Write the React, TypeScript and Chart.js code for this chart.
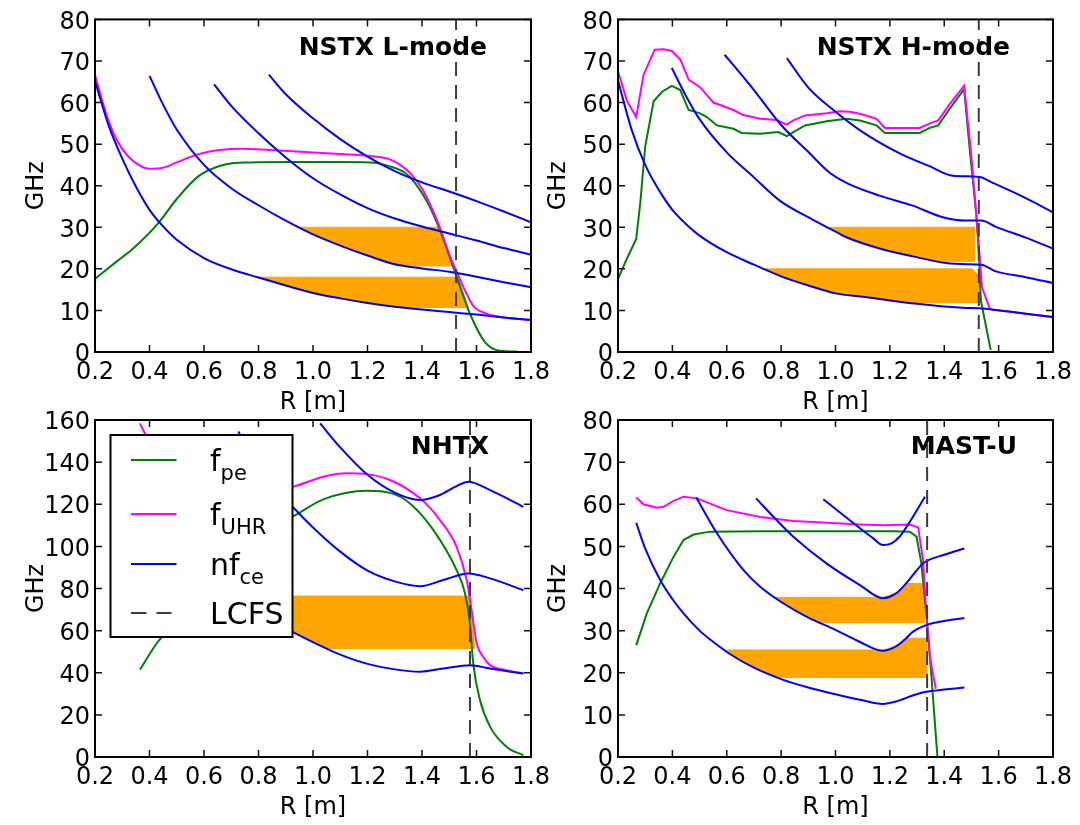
import React, { useEffect, useRef } from 'react';
import { Chart, registerables } from 'chart.js';

Chart.register(...registerables);

// ---------------- data (R in m, frequency in GHz) ----------------
const X_TICK_MIN = 0.2;
const X_TICK_MAX = 1.8;
const X_TICK_STEP = 0.2;

// Panel 1: NSTX L-mode
const L_TITLE = 'NSTX L-mode';
const L_YMAX = 80;
const L_LCFS = 1.525;
const L_B1_R = [0.2, 0.25, 0.3, 0.35, 0.4, 0.45, 0.5, 0.6, 0.7, 0.8, 0.9, 1.0, 1.1, 1.2, 1.3, 1.4, 1.5, 1.6, 1.7, 1.8];
const L_B1 = [65.2, 54.5, 46.5, 39.8, 34.2, 30.2, 27.0, 22.6, 19.9, 17.9, 16.0, 14.2, 12.9, 11.8, 10.9, 10.2, 9.6, 9.0, 8.3, 7.7];
const L_B2_R = [0.4, 0.45, 0.5, 0.6, 0.7, 0.8, 0.9, 1.0, 1.1, 1.2, 1.3, 1.4, 1.5, 1.6, 1.7, 1.8];
const L_B2 = [66.4, 59.5, 53.5, 45.0, 39.4, 35.3, 31.6, 28.3, 25.6, 23.2, 21.1, 20.1, 19.3, 18.1, 16.8, 15.6];
const L_B3_R = [0.637, 0.7, 0.8, 0.9, 1.0, 1.1, 1.2, 1.3, 1.4, 1.5, 1.6, 1.7, 1.8];
const L_B3 = [64.4, 59.2, 52.6, 46.8, 41.8, 37.9, 34.6, 32.1, 30.2, 28.5, 26.8, 25.0, 23.4];
const L_B4_R = [0.838, 0.9, 1.0, 1.1, 1.2, 1.3, 1.4, 1.5, 1.6, 1.7, 1.8];
const L_B4 = [66.7, 62.0, 56.2, 51.2, 47.0, 43.5, 40.8, 38.6, 36.3, 33.8, 31.2];
const L_UHR_R = [0.2, 0.24, 0.28, 0.32, 0.36, 0.4, 0.44, 0.5, 0.58, 0.66, 0.74, 0.84, 1.0, 1.1, 1.2, 1.28, 1.32, 1.36, 1.4, 1.43, 1.466, 1.5, 1.525, 1.56, 1.588, 1.637, 1.7, 1.8];
const L_UHR = [66.7, 57.5, 51.0, 47.2, 45.0, 44.1, 44.2, 45.6, 47.6, 48.6, 48.9, 48.6, 48.0, 47.6, 47.2, 46.4, 45.0, 42.8, 39.3, 35.5, 29.9, 23.5, 19.6, 14.5, 11.1, 9.2, 8.3, 7.7];
const L_PE_R = [0.2, 0.28, 0.34, 0.43, 0.5, 0.58, 0.67, 0.77, 0.92, 1.1, 1.21, 1.28, 1.34, 1.374, 1.42, 1.466, 1.52, 1.576, 1.631, 1.686, 1.75];
const L_PE = [17.6, 21.8, 24.9, 30.8, 36.8, 42.3, 45.0, 45.6, 45.7, 45.7, 45.6, 44.7, 43.0, 40.7, 36.0, 29.3, 19.4, 9.2, 2.4, 0.3, 0.1];
const L_BAND1_R = [0.95, 1.466, 1.509, 1.31, 1.2, 1.1, 1.0, 0.95];
const L_BAND1 = [30.0, 30.0, 20.7, 20.7, 23.2, 25.6, 28.3, 30.0];
const L_BAND2_R = [0.8, 1.533, 1.57, 1.32, 1.2, 1.1, 1.0, 0.9, 0.8];
const L_BAND2 = [18.0, 18.0, 10.7, 10.7, 11.8, 12.9, 14.2, 16.0, 18.0];

// Panel 2: NSTX H-mode
const H_TITLE = 'NSTX H-mode';
const H_YMAX = 80;
const H_LCFS = 1.527;
const H_B1_R = [0.2, 0.25, 0.3, 0.35, 0.4, 0.45, 0.5, 0.6, 0.7, 0.8, 0.9, 1.0, 1.1, 1.2, 1.3, 1.4, 1.48, 1.53, 1.59, 1.7, 1.8];
const H_B1 = [65.3, 53.5, 45.0, 39.0, 34.2, 30.8, 28.0, 24.0, 21.0, 18.2, 16.0, 14.1, 13.3, 12.4, 11.6, 10.95, 10.6, 10.5, 10.1, 9.2, 8.4];
const H_B2_R = [0.398, 0.45, 0.5, 0.6, 0.7, 0.795, 0.917, 0.979, 1.04, 1.162, 1.284, 1.407, 1.48, 1.536, 1.59, 1.7, 1.8];
const H_B2 = [68.3, 61.6, 56.0, 48.0, 42.0, 36.4, 31.8, 29.7, 27.6, 24.9, 23.0, 21.4, 21.1, 21.0, 19.4, 18.0, 16.6];
const H_B3_R = [0.592, 0.65, 0.7, 0.8, 0.905, 0.979, 1.04, 1.162, 1.284, 1.395, 1.48, 1.536, 1.59, 1.7, 1.8];
const H_B3 = [71.5, 67.0, 63.0, 54.6, 47.8, 43.1, 40.7, 37.6, 35.2, 32.4, 31.6, 31.6, 30.1, 27.5, 24.9];
const H_B4_R = [0.821, 0.9, 1.0, 1.1, 1.236, 1.346, 1.432, 1.529, 1.578, 1.7, 1.8];
const H_B4 = [70.7, 63.6, 57.8, 52.9, 47.8, 44.7, 42.4, 42.1, 40.7, 37.0, 33.6];
const H_UHR_R = [0.2, 0.233, 0.267, 0.294, 0.335, 0.368, 0.398, 0.429, 0.46, 0.502, 0.551, 0.625, 0.661, 0.723, 0.784, 0.821, 0.845, 0.888, 0.968, 1.017, 1.053, 1.09, 1.151, 1.182, 1.249, 1.31, 1.347, 1.378, 1.42, 1.473, 1.499, 1.517, 1.529, 1.539, 1.568, 1.7, 1.8];
const H_UHR = [67.5, 60.4, 56.5, 66.7, 72.7, 72.8, 72.4, 70.4, 65.5, 63.7, 60.0, 58.2, 57.0, 56.1, 55.8, 54.7, 55.7, 56.9, 57.4, 57.9, 57.8, 57.3, 56.1, 53.9, 53.9, 53.9, 55.0, 55.7, 59.6, 64.0, 47.8, 33.6, 24.1, 15.5, 10.3, 9.2, 8.4];
const H_PE_R = [0.2, 0.233, 0.267, 0.282, 0.3, 0.331, 0.362, 0.398, 0.429, 0.46, 0.502, 0.527, 0.564, 0.625, 0.655, 0.723, 0.79, 0.821, 0.845, 0.888, 0.968, 1.041, 1.09, 1.151, 1.182, 1.31, 1.347, 1.378, 1.42, 1.473, 1.495, 1.518, 1.527, 1.535, 1.571];
const H_PE = [17.6, 22.5, 27.2, 35.9, 49.4, 60.3, 62.6, 64.0, 63.0, 58.2, 57.4, 56.5, 54.5, 53.7, 52.7, 52.5, 52.9, 51.9, 52.9, 54.5, 55.5, 56.1, 55.7, 54.5, 52.7, 52.7, 53.9, 54.5, 58.5, 63.2, 47.8, 33.0, 24.0, 12.2, 0.5];
const H_BAND1_R = [0.979, 1.511, 1.511, 1.37, 1.284, 1.162, 1.04, 0.979];
const H_BAND1 = [30.0, 30.0, 21.8, 21.8, 23.0, 24.9, 27.6, 30.0];
const H_BAND2_R = [0.74, 1.503, 1.529, 1.529, 1.26, 1.2, 1.1, 1.0, 0.9, 0.8, 0.74];
const H_BAND2 = [20.0, 20.0, 18.2, 11.9, 11.9, 12.4, 13.3, 14.1, 16.0, 18.2, 20.0];

// Panel 3: NHTX
const X_TITLE = 'NHTX';
const X_YMAX = 160;
const X_LCFS = 1.576;
const X_B1_R = [0.37, 0.4, 0.5, 0.6, 0.7, 0.8, 0.925, 1.0, 1.1, 1.2, 1.3, 1.393, 1.478, 1.576, 1.65, 1.772];
const X_B1 = [150, 138, 110, 92, 78, 68, 59.4, 54.5, 48.6, 44.2, 41.6, 40.5, 42.0, 43.6, 42.0, 39.6];
const X_B2_R = [0.726, 0.8, 0.925, 1.0, 1.1, 1.2, 1.3, 1.393, 1.478, 1.57, 1.65, 1.772];
const X_B2 = [154.5, 137, 118.8, 109.0, 97.5, 88.5, 83.4, 81.1, 84.0, 87.1, 84.8, 79.2];
const X_B3_R = [1.026, 1.1, 1.2, 1.3, 1.393, 1.466, 1.527, 1.57, 1.65, 1.772];
const X_B3 = [158.4, 147.0, 134.0, 125.5, 122.0, 124.4, 128.6, 130.7, 126.7, 118.8];
const X_UHR_R = [0.365, 0.39, 0.45, 0.55, 0.7, 0.85, 0.925, 1.038, 1.124, 1.197, 1.283, 1.393, 1.466, 1.527, 1.564, 1.582, 1.601, 1.625, 1.65, 1.711, 1.772];
const X_UHR = [158.4, 152, 141, 133, 128, 127.5, 128.3, 133.1, 134.7, 134.3, 131.5, 122.8, 112.5, 99.8, 84, 69.7, 53.9, 47.5, 43.6, 41.2, 39.6];
const X_PE_R = [0.365, 0.426, 0.445, 0.5, 0.6, 0.7, 0.8, 0.925, 1.038, 1.197, 1.283, 1.356, 1.442, 1.527, 1.558, 1.576, 1.588, 1.613, 1.65, 1.711, 1.772];
const X_PE = [41.5, 53.9, 57, 70, 88, 100, 107, 114.1, 122.3, 126.4, 125.4, 120.4, 107.7, 88.7, 77.6, 63.4, 44.4, 26.9, 14.3, 4.8, 0.8];
const X_BAND_R = [0.71, 1.576, 1.594, 1.06, 1.0, 0.925, 0.8, 0.71];
const X_BAND = [76.4, 76.4, 51.5, 51.5, 54.5, 59.4, 68.0, 76.4];

// Panel 4: MAST-U
const M_TITLE = 'MAST-U';
const M_YMAX = 80;
const M_LCFS = 1.337;
const M_B1_R = [0.267, 0.3, 0.355, 0.4, 0.441, 0.5, 0.539, 0.613, 0.7, 0.8, 0.9, 1.0, 1.09, 1.174, 1.224, 1.284, 1.333, 1.4, 1.474];
const M_B1 = [55.6, 49.5, 42.0, 37.5, 34.1, 30.0, 27.9, 24.4, 21.2, 18.5, 16.5, 14.9, 13.6, 12.6, 13.2, 14.6, 15.5, 16.0, 16.5];
const M_B2_R = [0.488, 0.564, 0.661, 0.723, 0.8, 0.9, 1.0, 1.09, 1.174, 1.224, 1.26, 1.284, 1.333, 1.4, 1.474];
const M_B2 = [61.6, 53.1, 44.4, 40.4, 36.8, 33.1, 30.2, 27.3, 25.2, 26.3, 28.2, 29.7, 31.3, 32.3, 33.0];
const M_B3_R = [0.708, 0.784, 0.845, 0.968, 1.09, 1.174, 1.224, 1.26, 1.323, 1.4, 1.474];
const M_B3 = [61.4, 56.2, 52.3, 45.9, 40.8, 37.7, 38.9, 41.2, 46.0, 48.0, 49.5];
const M_B4_R = [0.955, 1.029, 1.09, 1.139, 1.174, 1.206, 1.237, 1.273, 1.329];
const M_B4 = [61.2, 57.4, 54.3, 51.9, 50.3, 50.7, 52.4, 55.8, 61.8];
const M_UHR_R = [0.267, 0.294, 0.343, 0.368, 0.404, 0.441, 0.49, 0.6, 0.723, 0.845, 0.968, 1.09, 1.176, 1.273, 1.304, 1.322, 1.335, 1.349, 1.369];
const M_UHR = [61.6, 60.0, 59.2, 59.4, 60.8, 61.8, 61.4, 58.6, 57.0, 56.0, 55.6, 55.2, 55.0, 55.2, 54.5, 46.7, 33.3, 23.0, 16.2];
const M_PE_R = [0.267, 0.306, 0.355, 0.404, 0.441, 0.478, 0.539, 0.723, 1.212, 1.273, 1.298, 1.316, 1.335, 1.353, 1.375];
const M_PE = [26.5, 34.1, 41.2, 47.5, 51.5, 52.8, 53.5, 53.6, 53.6, 53.5, 52.3, 45.9, 33.3, 19.0, 0];
const M_BAND1_R = [0.778, 1.174, 1.224, 1.26, 1.326, 1.326, 0.94, 0.9, 0.8, 0.778];
const M_BAND1 = [37.9, 37.9, 38.9, 41.2, 41.2, 31.9, 31.9, 33.1, 36.8, 37.9];
const M_BAND2_R = [0.6, 1.174, 1.224, 1.26, 1.334, 1.338, 0.79, 0.7, 0.613, 0.6];
const M_BAND2 = [25.4, 25.4, 26.3, 28.2, 28.2, 18.9, 18.9, 21.2, 24.4, 25.4];

// Legend
const LEGEND_MAIN = ['f', 'f', 'nf', 'LCFS'];
const LEGEND_SUB = ['pe', 'UHR', 'ce', ''];

// ---------------- styles ----------------
const W = 1080;
const H = 825;
const FAMILY = "'DejaVu Sans', 'Liberation Sans', sans-serif";
const BLUE = '#0000ff';
const MAGENTA = '#ff00ff';
const GREEN = '#008000';
const ORANGE = '#ffa500';
const DASH_COLOR = '#3c3c3c';
const LEGEND_COLORS = [GREEN, MAGENTA, BLUE, DASH_COLOR];
const TICK_LEN = 7;
const X_AXIS_H = 65;

type Curve = [number[], number[]];
interface PanelCfg {
  title: string;
  yMax: number;
  yStep: number;
  lcfs: number;
  blues: Curve[];
  uhr: Curve;
  pe: Curve;
  bands: Curve[];
  jagged: boolean;
  area: { left: number; top: number; right: number; bottom: number };
  padLeft: number;
  ghzPad: number;
  titleRight: number;
  titleY: number;
  legend: boolean;
}

const PANELS: PanelCfg[] = [
  {
    title: L_TITLE, yMax: L_YMAX, yStep: 10, lcfs: L_LCFS,
    blues: [[L_B1_R, L_B1], [L_B2_R, L_B2], [L_B3_R, L_B3], [L_B4_R, L_B4]],
    uhr: [L_UHR_R, L_UHR], pe: [L_PE_R, L_PE],
    bands: [[L_BAND1_R, L_BAND1], [L_BAND2_R, L_BAND2]],
    jagged: false,
    area: { left: 95, top: 14, right: 531, bottom: 352 }, padLeft: 0, ghzPad: 22.3,
    titleRight: 44, titleY: 29.5, legend: false,
  },
  {
    title: H_TITLE, yMax: H_YMAX, yStep: 10, lcfs: H_LCFS,
    blues: [[H_B1_R, H_B1], [H_B2_R, H_B2], [H_B3_R, H_B3], [H_B4_R, H_B4]],
    uhr: [H_UHR_R, H_UHR], pe: [H_PE_R, H_PE],
    bands: [[H_BAND1_R, H_BAND1], [H_BAND2_R, H_BAND2]],
    jagged: true,
    area: { left: 618, top: 14, right: 1053, bottom: 352 }, padLeft: 540, ghzPad: 4.6,
    titleRight: 43, titleY: 29.5, legend: false,
  },
  {
    title: X_TITLE, yMax: X_YMAX, yStep: 20, lcfs: X_LCFS,
    blues: [[X_B1_R, X_B1], [X_B2_R, X_B2], [X_B3_R, X_B3]],
    uhr: [X_UHR_R, X_UHR], pe: [X_PE_R, X_PE],
    bands: [[X_BAND_R, X_BAND]],
    jagged: false,
    area: { left: 95, top: 420, right: 531, bottom: 757 }, padLeft: 0, ghzPad: 22.3,
    titleRight: 42, titleY: 27.5, legend: true,
  },
  {
    title: M_TITLE, yMax: M_YMAX, yStep: 10, lcfs: M_LCFS,
    blues: [[M_B1_R, M_B1], [M_B2_R, M_B2], [M_B3_R, M_B3], [M_B4_R, M_B4]],
    uhr: [M_UHR_R, M_UHR], pe: [M_PE_R, M_PE],
    bands: [[M_BAND1_R, M_BAND1], [M_BAND2_R, M_BAND2]],
    jagged: true,
    area: { left: 618, top: 420, right: 1053, bottom: 757 }, padLeft: 540, ghzPad: 4.6,
    titleRight: 36, titleY: 27.5, legend: false,
  },
];

const pts = (xs: number[], ys: number[]) => xs.map((x, i) => ({ x, y: ys[i] }));

function drawLegend(ctx: CanvasRenderingContext2D, a: any) {
  const bx = a.left + 15.5;
  const by = a.top + 15;
  const bw = 182;
  const bh = 202;
  ctx.save();
  ctx.fillStyle = '#ffffff';
  ctx.fillRect(bx, by, bw, bh);
  ctx.lineWidth = 2;
  ctx.strokeStyle = '#000';
  ctx.strokeRect(bx, by, bw, bh);
  const rowY = [25, 79, 129, 178];
  LEGEND_MAIN.forEach((m, i) => {
    const y = by + rowY[i];
    ctx.beginPath();
    ctx.strokeStyle = LEGEND_COLORS[i];
    ctx.lineWidth = 2;
    ctx.setLineDash(i === 3 ? [15.5, 10] : []);
    ctx.moveTo(bx + 20.5, y);
    ctx.lineTo(bx + (i === 3 ? 61 : 66), y);
    ctx.stroke();
    ctx.setLineDash([]);
    ctx.fillStyle = '#000';
    ctx.textAlign = 'left';
    ctx.textBaseline = 'alphabetic';
    ctx.font = `30px ${FAMILY}`;
    ctx.fillText(m, bx + 99.5, y + 11);
    if (LEGEND_SUB[i]) {
      const w = ctx.measureText(m).width;
      ctx.font = `21px ${FAMILY}`;
      ctx.fillText(LEGEND_SUB[i], bx + 99.5 + w, y + 20);
    }
  });
  ctx.restore();
}

function makeDecor(p: PanelCfg) {
  return {
    id: 'decor',
    afterDatasetsDraw(chart: any) {
      const { ctx, chartArea: a, scales } = chart;
      const xs = scales.x;
      const ys = scales.y;
      ctx.save();
      ctx.strokeStyle = '#111';
      ctx.lineWidth = 1.5;
      ctx.beginPath();
      xs.ticks.forEach((t: any) => {
        const px = xs.getPixelForValue(t.value);
        ctx.moveTo(px, a.bottom);
        ctx.lineTo(px, a.bottom - TICK_LEN);
        ctx.moveTo(px, a.top);
        ctx.lineTo(px, a.top + TICK_LEN);
      });
      ys.ticks.forEach((t: any) => {
        const py = ys.getPixelForValue(t.value);
        ctx.moveTo(a.left, py);
        ctx.lineTo(a.left + TICK_LEN, py);
        ctx.moveTo(a.right, py);
        ctx.lineTo(a.right - TICK_LEN, py);
      });
      ctx.stroke();
      ctx.lineWidth = 2;
      ctx.strokeStyle = '#000';
      ctx.strokeRect(a.left, a.top, a.right - a.left, a.bottom - a.top);
      ctx.fillStyle = '#000';
      ctx.font = `bold 25px ${FAMILY}`;
      ctx.textAlign = 'right';
      ctx.textBaseline = 'middle';
      ctx.fillText(p.title, a.right - p.titleRight, a.top + p.titleY);
      ctx.restore();
      if (p.legend) drawLegend(ctx, a);
    },
  };
}

function buildChart(canvas: HTMLCanvasElement, p: PanelCfg) {
  const lineMode = (jag: boolean) =>
    jag ? { tension: 0, cubicInterpolationMode: 'default' } : { cubicInterpolationMode: 'monotone' };
  const datasets: any[] = [];
  datasets.push({
    data: pts([p.lcfs, p.lcfs], [0, p.yMax]),
    borderColor: DASH_COLOR, borderWidth: 2, borderDash: [14, 9], tension: 0,
  });
  p.blues.forEach(([r, v]) => {
    datasets.push({ data: pts(r, v), borderColor: BLUE, borderWidth: 2, ...lineMode(false) });
  });
  datasets.push({ data: pts(p.uhr[0], p.uhr[1]), borderColor: MAGENTA, borderWidth: 2, ...lineMode(p.jagged) });
  datasets.push({ data: pts(p.pe[0], p.pe[1]), borderColor: GREEN, borderWidth: 2, ...lineMode(p.jagged) });
  p.bands.forEach(([r, v]) => {
    datasets.push({
      data: pts(r, v), fill: 'shape', backgroundColor: ORANGE, borderColor: ORANGE, borderWidth: 1, tension: 0,
    });
  });

  const font = { family: FAMILY, size: 24 };
  return new Chart(canvas, {
    type: 'line',
    data: { datasets },
    options: {
      animation: false,
      responsive: false,
      devicePixelRatio: 1,
      events: [],
      layout: {
        padding: {
          left: p.padLeft,
          top: p.area.top,
          right: W - p.area.right,
          bottom: H - p.area.bottom - X_AXIS_H,
        },
      },
      elements: { point: { radius: 0, hoverRadius: 0 } },
      scales: {
        x: {
          type: 'linear',
          min: X_TICK_MIN,
          max: X_TICK_MAX,
          afterFit: (s: any) => { s.height = X_AXIS_H; },
          grid: { display: false, drawTicks: false },
          border: { display: false },
          ticks: {
            stepSize: X_TICK_STEP, padding: 6, color: '#000', font, autoSkip: false, maxRotation: 0,
            callback: (v: any) => Number(v).toFixed(1),
          },
          title: { display: true, text: 'R [m]', color: '#000', font, padding: 0 },
        },
        y: {
          type: 'linear',
          min: 0,
          max: p.yMax,
          afterFit: (s: any) => { s.width = p.area.left - p.padLeft; },
          grid: { display: false, drawTicks: false },
          border: { display: false },
          ticks: {
            stepSize: p.yStep, padding: 5, labelOffset: 3, color: '#000', font, autoSkip: false,
            callback: (v: any) => Number(v).toFixed(0),
          },
          title: { display: true, text: 'GHz', color: '#000', font, padding: { top: p.ghzPad, bottom: 0 } },
        },
      },
      plugins: {
        legend: { display: false },
        tooltip: { enabled: false },
        title: { display: false },
      },
    } as any,
    plugins: [makeDecor(p)],
  });
}

export default function App() {
  const refs = [
    useRef<HTMLCanvasElement>(null),
    useRef<HTMLCanvasElement>(null),
    useRef<HTMLCanvasElement>(null),
    useRef<HTMLCanvasElement>(null),
  ];
  useEffect(() => {
    document.body.style.margin = '0';
    document.body.style.background = '#fff';
    const charts = PANELS.map((p, i) => buildChart(refs[i].current as HTMLCanvasElement, p));
    return () => charts.forEach((c) => c.destroy());
  }, []);
  return (
    <div style={{ position: 'relative', width: W, height: H, background: '#fff', overflow: 'hidden' }}>
      {PANELS.map((p, i) => (
        <canvas
          key={p.title}
          ref={refs[i]}
          width={W}
          height={H}
          style={{ position: 'absolute', left: 0, top: 0, width: W, height: H }}
        />
      ))}
    </div>
  );
}
